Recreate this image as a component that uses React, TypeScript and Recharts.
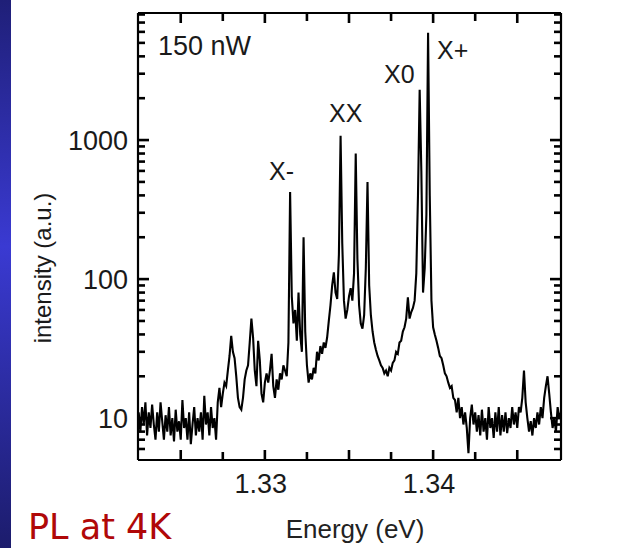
import React from 'react';
import { ComposedChart, Line, Scatter, XAxis, YAxis } from 'recharts';

// Spectrometer grid: energy (eV) of the first sample and spacing between samples
const ENERGY_START = 1.3225;
const ENERGY_STEP = 0.0001;

// PL intensity (a.u.), one value per grid sample
const INTENSITY = [
  11, 8, 12, 9, 13, 7.5, 11, 8.5, 12.5, 9,
  7, 11, 8, 13, 9.5, 7, 10.5, 8, 12, 7.5,
  10, 6.8, 11.5, 8, 9.5, 7, 13.5, 8.5, 10, 7,
  11, 6.5, 9, 12, 7.5, 10, 8, 11, 7, 14.5,
  9, 11, 7.5, 12, 8.5, 10, 7, 13, 16.5, 12,
  15, 18, 17, 22, 28, 39, 30, 27, 20, 14,
  12, 11.5, 14, 19, 22, 24, 35, 52, 38, 22,
  17, 36, 26, 15, 13, 18, 21, 18, 22, 29,
  17, 14, 19, 16, 21, 19, 24, 22, 20, 35,
  423, 75, 48, 60, 36, 80, 40, 30, 200, 42,
  24, 18, 21, 19, 23, 21, 30, 26, 33, 29,
  35, 32, 38, 50, 65, 90, 112, 80, 72, 150,
  1075, 180, 70, 52, 60, 75, 86, 70, 110, 800,
  140, 65, 48, 44, 55, 120, 500, 90, 55, 42,
  35, 31, 28, 26, 24, 23, 21, 22, 20, 23,
  22, 25, 26, 30, 29, 35, 36, 42, 45, 52,
  74, 52, 58, 62, 70, 110, 400, 2300, 600, 80,
  120, 290, 5900, 400, 70, 45, 40, 36, 32, 28,
  27, 24, 21, 20, 18, 16.5, 17, 14, 13.5, 11,
  14, 10, 12, 9, 11, 8.5, 5.6, 10, 12.5, 9,
  11, 8, 10.5, 7.5, 11.5, 8, 10, 7, 12, 8.5,
  10, 7.2, 11, 8, 12, 7.5, 10.5, 8, 11, 7.8,
  10, 8.5, 12, 9, 11, 8.5, 12, 11, 14, 22,
  13, 10, 8, 9.5, 7.5, 10, 8.5, 11, 9, 12,
  10, 14, 17, 20, 15, 11, 8.5, 10, 8, 12,
  10, 11,
];

const X_TICKS = [1.325, 1.3275, 1.33, 1.3325, 1.335, 1.3375, 1.34, 1.3425, 1.345];
const X_LABELS = [1.33, 1.34];
const Y_TICKS = [
  6, 7, 8, 9, 10, 20, 30, 40, 50, 60, 70, 80, 90,
  100, 200, 300, 400, 500, 600, 700, 800, 900,
  1000, 2000, 3000, 4000, 5000, 6000, 7000, 8000,
];
const Y_LABELS = [10, 100, 1000];
const X_DOMAIN = [1.32246, 1.3476];
const Y_DOMAIN = [5, 8200];

const DATA = INTENSITY.map((v, i) => ({
  e: +(ENERGY_START + i * ENERGY_STEP).toFixed(4),
  v,
}));

// Anchor points for the inward tick marks on the four sides of the frame
const BOTTOM_MARKS = X_TICKS.map((e) => ({ e, v: Y_DOMAIN[0] }));
const TOP_MARKS = X_TICKS.map((e) => ({ e, v: Y_DOMAIN[1] }));
const LEFT_MARKS = Y_TICKS.map((v) => ({ e: X_DOMAIN[0], v }));
const RIGHT_MARKS = Y_TICKS.map((v) => ({ e: X_DOMAIN[1], v }));

const FONT = '"Liberation Sans", Arial, Helvetica, sans-serif';
const TXT = '#1a1a1a';
const TICK_W = 2.6;
const TICK_C = '#000';

const isXLabel = (v: number) => X_LABELS.some((l) => Math.abs(l - v) < 1e-7);
const isXLong = (v: number) => Math.abs(Math.round(v * 200) - v * 200) < 1e-6;
const isYLabel = (v: number) => Y_LABELS.includes(v);

const xLen = (e: number) => (isXLong(e) ? 10 : 8);
const yLen = (v: number) => (isYLabel(v) ? 11 : 7);

const BottomMark = (p: any) => (
  <path d={`M${p.cx},${p.cy}V${p.cy - xLen(p.payload?.e)}`} stroke={TICK_C} strokeWidth={TICK_W} fill="none" />
);
const TopMark = (p: any) => (
  <path d={`M${p.cx},${p.cy}V${p.cy + xLen(p.payload?.e)}`} stroke={TICK_C} strokeWidth={TICK_W} fill="none" />
);
const LeftMark = (p: any) => (
  <path d={`M${p.cx},${p.cy}H${p.cx + yLen(p.payload?.v)}`} stroke={TICK_C} strokeWidth={TICK_W} fill="none" />
);
const RightMark = (p: any) => (
  <path d={`M${p.cx},${p.cy}H${p.cx - yLen(p.payload?.v)}`} stroke={TICK_C} strokeWidth={TICK_W} fill="none" />
);

const BottomLabel = (props: any) => {
  const { x, y, payload } = props;
  const v = payload.value as number;
  if (!isXLabel(v)) return <g />;
  return (
    <text x={x - 4} y={y + 33} textAnchor="middle" fontFamily={FONT} fontSize={27} fill={TXT}>
      {v.toFixed(2)}
    </text>
  );
};

const LeftLabel = (props: any) => {
  const { x, y, payload } = props;
  const v = payload.value as number;
  if (!isYLabel(v)) return <g />;
  return (
    <text x={x - 10} y={y + 9.5} textAnchor="end" fontFamily={FONT} fontSize={27} fill={TXT}>
      {v}
    </text>
  );
};

export default function App() {
  return (
    <div style={{ position: 'absolute', left: 0, top: 0, width: 623, height: 548, background: '#fff' }}>
      <ComposedChart
        width={623}
        height={548}
        data={DATA}
        margin={{ top: 10, right: 60, bottom: 48, left: 78 }}
      >
        <XAxis
          xAxisId="bottom"
          orientation="bottom"
          dataKey="e"
          type="number"
          domain={X_DOMAIN}
          allowDataOverflow
          ticks={X_TICKS}
          interval={0}
          height={40}
          tickSize={0}
          tickMargin={0}
          tickLine={false}
          axisLine={{ stroke: '#000', strokeWidth: 2.2 }}
          tick={BottomLabel}
        />
        <XAxis
          xAxisId="top"
          orientation="top"
          dataKey="e"
          type="number"
          domain={X_DOMAIN}
          allowDataOverflow
          ticks={X_TICKS}
          height={3}
          tickLine={false}
          tick={false}
          axisLine={{ stroke: '#000', strokeWidth: 2.2 }}
        />
        <YAxis
          yAxisId="left"
          orientation="left"
          dataKey="v"
          type="number"
          scale="log"
          domain={Y_DOMAIN}
          allowDataOverflow
          ticks={Y_TICKS}
          interval={0}
          width={60}
          tickSize={0}
          tickMargin={0}
          tickLine={false}
          axisLine={{ stroke: '#000', strokeWidth: 2.2 }}
          tick={LeftLabel}
        />
        <YAxis
          yAxisId="right"
          orientation="right"
          dataKey="v"
          type="number"
          scale="log"
          domain={Y_DOMAIN}
          allowDataOverflow
          ticks={Y_TICKS}
          width={2}
          tickLine={false}
          tick={false}
          axisLine={{ stroke: '#000', strokeWidth: 2.2 }}
        />
        <Line
          xAxisId="bottom"
          yAxisId="left"
          dataKey="v"
          type="linear"
          stroke="#000"
          strokeWidth={2.1}
          dot={false}
          isAnimationActive={false}
        />
        <Scatter xAxisId="bottom" yAxisId="left" data={BOTTOM_MARKS} dataKey="v" shape={BottomMark} isAnimationActive={false} />
        <Scatter xAxisId="top" yAxisId="left" data={TOP_MARKS} dataKey="v" shape={TopMark} isAnimationActive={false} />
        <Scatter xAxisId="bottom" yAxisId="left" data={LEFT_MARKS} dataKey="v" shape={LeftMark} isAnimationActive={false} />
        <Scatter xAxisId="bottom" yAxisId="right" data={RIGHT_MARKS} dataKey="v" shape={RightMark} isAnimationActive={false} />
      </ComposedChart>
      <svg
        width={623}
        height={548}
        style={{ position: 'absolute', left: 0, top: 0, pointerEvents: 'none' }}
      >
        <defs>
          <linearGradient id="bluebar" x1="0" y1="0" x2="0" y2="1">
            <stop offset="0%" stopColor="#1f1f78" />
            <stop offset="45%" stopColor="#3a3ad2" />
            <stop offset="100%" stopColor="#1c1c6c" />
          </linearGradient>
        </defs>
        <rect x={0} y={0} width={11} height={548} fill="url(#bluebar)" />
        <text x={158} y={55} fontFamily={FONT} fontSize={27} fill={TXT}>150 nW</text>
        <text x={269} y={180} fontFamily={FONT} fontSize={25} fill={TXT}>X-</text>
        <text x={329} y={122} fontFamily={FONT} fontSize={25} fill={TXT}>XX</text>
        <text x={384} y={83} fontFamily={FONT} fontSize={25} fill={TXT}>X0</text>
        <text x={437} y={59} fontFamily={FONT} fontSize={25} fill={TXT}>X+</text>
        <text
          x={0}
          y={0}
          transform="translate(51 268) rotate(-90)"
          textAnchor="middle"
          fontFamily={FONT}
          fontSize={24}
          fill={TXT}
        >
          intensity (a.u.)
        </text>
        <text x={355} y={538} textAnchor="middle" fontFamily={FONT} fontSize={26} fill="#222">
          Energy (eV)
        </text>
        <text x={28} y={539} fontFamily='"DejaVu Sans", sans-serif' fontSize={35} fill="#b00808">
          PL at 4K
        </text>
      </svg>
    </div>
  );
}
